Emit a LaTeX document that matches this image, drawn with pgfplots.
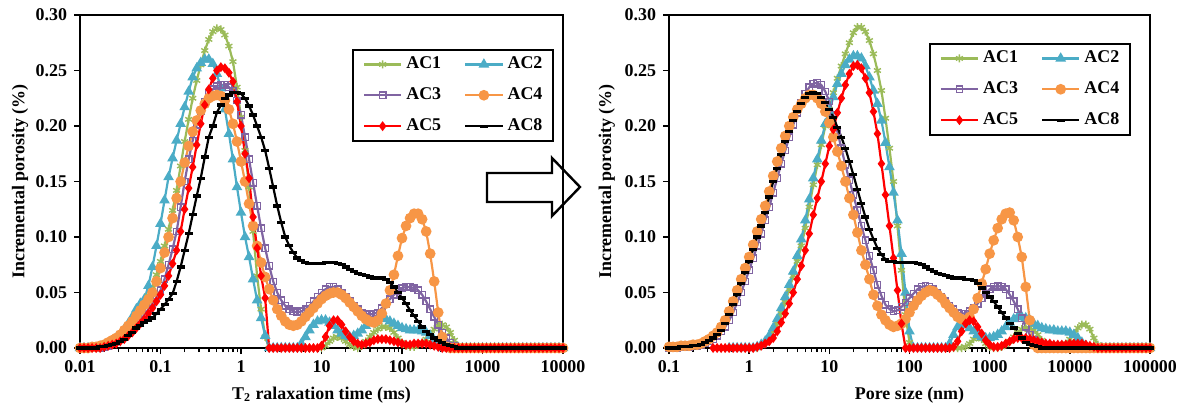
\documentclass[border=0pt]{standalone}
\usepackage{pgfplots}
\pgfplotsset{compat=1.18}
\usepackage{pgfplotstable}
\usepackage{fontspec}
\setmainfont{Liberation Serif}

\definecolor{cAC1}{HTML}{9BBB59}
\definecolor{cAC2}{HTML}{4BACC6}
\definecolor{cAC3}{HTML}{8064A2}
\definecolor{cAC4}{HTML}{F79646}
\definecolor{cAC5}{HTML}{FF0000}
\definecolor{cAC8}{HTML}{000000}

\newcommand{\lbl}{\fontsize{9}{10.8}\selectfont\bfseries}

% left panel: log10 of T2 (ms)
\pgfplotstableread{
lx a1 a2 a3 a4 a5 a8
-2.00 0 0 0 0 0 0
-1.95 0 0 0 0 0 0
-1.90 0 0 0 0 0 0
-1.85 0 0 0 0.001 0 0
-1.80 0 0 0 0.001 0 0
-1.75 0 0.001 0 0.002 0 0.001
-1.70 0.001 0.002 0.001 0.003 0.001 0.001
-1.65 0.002 0.004 0.002 0.005 0.002 0.002
-1.60 0.004 0.006 0.004 0.007 0.003 0.003
-1.55 0.006 0.009 0.006 0.009 0.004 0.004
-1.50 0.009 0.012 0.008 0.012 0.006 0.006
-1.45 0.013 0.017 0.011 0.016 0.008 0.008
-1.40 0.017 0.022 0.014 0.020 0.011 0.011
-1.35 0.022 0.028 0.017 0.024 0.014 0.014
-1.30 0.028 0.035 0.021 0.029 0.018 0.018
-1.25 0.034 0.040 0.025 0.034 0.022 0.020
-1.20 0.040 0.044 0.030 0.039 0.026 0.023
-1.15 0.047 0.056 0.035 0.044 0.031 0.025
-1.10 0.055 0.073 0.040 0.050 0.036 0.027
-1.05 0.066 0.092 0.046 0.060 0.042 0.031
-1.00 0.078 0.112 0.052 0.072 0.048 0.035
-0.95 0.092 0.133 0.062 0.086 0.056 0.039
-0.90 0.107 0.154 0.075 0.100 0.065 0.044
-0.85 0.124 0.171 0.089 0.117 0.076 0.049
-0.80 0.142 0.187 0.105 0.135 0.088 0.060
-0.75 0.164 0.202 0.127 0.150 0.105 0.073
-0.70 0.186 0.217 0.150 0.167 0.125 0.088
-0.65 0.206 0.231 0.170 0.182 0.144 0.103
-0.60 0.225 0.244 0.187 0.195 0.163 0.120
-0.55 0.241 0.252 0.201 0.205 0.183 0.137
-0.50 0.255 0.257 0.213 0.214 0.202 0.153
-0.45 0.268 0.260 0.222 0.220 0.219 0.172
-0.40 0.278 0.260 0.229 0.225 0.233 0.190
-0.35 0.285 0.256 0.233 0.227 0.243 0.200
-0.30 0.288 0.247 0.236 0.228 0.250 0.212
-0.25 0.287 0.234 0.237 0.227 0.253 0.219
-0.20 0.282 0.215 0.237 0.223 0.252 0.225
-0.15 0.272 0.193 0.235 0.215 0.248 0.228
-0.10 0.258 0.170 0.232 0.202 0.240 0.230
-0.05 0.235 0.145 0.223 0.186 0.222 0.230
0.00 0.208 0.122 0.210 0.168 0.200 0.229
0.05 0.178 0.100 0.190 0.150 0.175 0.225
0.10 0.145 0.082 0.170 0.130 0.153 0.218
0.15 0.105 0.062 0.149 0.110 0.118 0.210
0.20 0.065 0.043 0.128 0.092 0.090 0.200
0.25 0.035 0.027 0.108 0.077 0.065 0.190
0.30 0.010 0.011 0.090 0.064 0.045 0.178
0.35 0 0 0.074 0.053 0 0.162
0.40 0 0 0.060 0.043 0 0.145
0.45 0 0 0.050 0.035 0 0.128
0.50 0 0 0.043 0.029 0 0.113
0.55 0 0 0.038 0.024 0 0.100
0.60 0 0 0.035 0.021 0 0.092
0.65 0 0 0.033 0.020 0 0.086
0.70 0 0 0.032 0.021 0 0.081
0.75 0 0.004 0.033 0.024 0 0.079
0.80 0 0.010 0.035 0.028 0 0.077
0.85 0 0.016 0.038 0.032 0 0.076
0.90 0 0.021 0.042 0.036 0 0.076
0.95 0 0.024 0.046 0.040 0 0.076
1.00 0 0.025 0.050 0.044 0.002 0.076
1.05 0.002 0.025 0.053 0.047 0.010 0.077
1.10 0.006 0.023 0.055 0.049 0.020 0.077
1.15 0.009 0.020 0.055 0.050 0.025 0.077
1.20 0.010 0.016 0.053 0.050 0.025 0.076
1.25 0.009 0.013 0.050 0.048 0.021 0.075
1.30 0.006 0.011 0.046 0.045 0.015 0.073
1.35 0.003 0.010 0.042 0.041 0.010 0.071
1.40 0.001 0.011 0.038 0.037 0.006 0.069
1.45 0 0.013 0.035 0.033 0.004 0.067
1.50 0.002 0.016 0.032 0.029 0.003 0.066
1.55 0.006 0.020 0.031 0.026 0.004 0.065
1.60 0.010 0.023 0.030 0.024 0.005 0.064
1.65 0.014 0.026 0.031 0.023 0.007 0.063
1.70 0.017 0.027 0.032 0.025 0.008 0.063
1.75 0.019 0.027 0.036 0.031 0.008 0.063
1.80 0.019 0.026 0.040 0.040 0.008 0.062
1.85 0.018 0.024 0.044 0.052 0.007 0.059
1.90 0.014 0.022 0.048 0.066 0.006 0.055
1.95 0.009 0.020 0.051 0.083 0.005 0.050
2.00 0.005 0.018 0.054 0.099 0.004 0.045
2.05 0.002 0.017 0.055 0.110 0.003 0.040
2.10 0.001 0.016 0.055 0.117 0.003 0.034
2.15 0.001 0.016 0.054 0.121 0.004 0.029
2.20 0.003 0.016 0.052 0.121 0.004 0.024
2.25 0.005 0.015 0.048 0.116 0.004 0.019
2.30 0.008 0.014 0.042 0.105 0.004 0.015
2.35 0.013 0.011 0.035 0.085 0.003 0.012
2.40 0.017 0.007 0.028 0.060 0.002 0.009
2.45 0.020 0.003 0.021 0.032 0.001 0.007
2.50 0.021 0 0.014 0.010 0 0.005
2.55 0.019 0 0.009 0.001 0 0.003
2.60 0.014 0 0.005 0 0 0.002
2.65 0.007 0 0.002 0 0 0.001
2.70 0.002 0 0 0 0 0
2.75 0 0 0 0 0 0
2.80 0 0 0 0 0 0
2.85 0 0 0 0 0 0
2.90 0 0 0 0 0 0
2.95 0 0 0 0 0 0
3.00 0 0 0 0 0 0
3.05 0 0 0 0 0 0
3.10 0 0 0 0 0 0
3.15 0 0 0 0 0 0
3.20 0 0 0 0 0 0
3.25 0 0 0 0 0 0
3.30 0 0 0 0 0 0
3.35 0 0 0 0 0 0
3.40 0 0 0 0 0 0
3.45 0 0 0 0 0 0
3.50 0 0 0 0 0 0
3.55 0 0 0 0 0 0
3.60 0 0 0 0 0 0
3.65 0 0 0 0 0 0
3.70 0 0 0 0 0 0
3.75 0 0 0 0 0 0
3.80 0 0 0 0 0 0
3.85 0 0 0 0 0 0
3.90 0 0 0 0 0 0
3.95 0 0 0 0 0 0
4.00 0 0 0 0 0 0
}\Tleft

% right panel: log10 of pore size (nm)
\pgfplotstableread{
lx a1 a2 a3 a4 a5 a8
-1.00 nan nan 0 0.001 nan 0
-0.95 nan nan 0 0.001 nan 0
-0.90 nan nan 0 0.001 nan 0
-0.85 nan nan 0.001 0.002 nan 0.001
-0.80 nan nan 0.001 0.002 nan 0.001
-0.75 nan nan 0.001 0.002 nan 0.001
-0.70 nan nan 0.002 0.003 nan 0.002
-0.65 nan nan 0.002 0.003 nan 0.002
-0.60 nan nan 0.003 0.004 nan 0.003
-0.55 nan nan 0.004 0.006 nan 0.005
-0.50 nan nan 0.006 0.008 nan 0.007
-0.45 nan nan 0.008 0.011 0 0.009
-0.40 nan nan 0.011 0.014 0 0.012
-0.35 0 nan 0.015 0.019 0 0.016
-0.30 0 nan 0.019 0.025 0 0.022
-0.25 0 0 0.025 0.033 0 0.030
-0.20 0 0 0.032 0.042 0 0.039
-0.15 0 0 0.041 0.052 0 0.048
-0.10 0 0 0.050 0.062 0 0.058
-0.05 0 0 0.060 0.072 0 0.068
0.00 0 0 0.070 0.082 0 0.078
0.05 0 0 0.081 0.093 0 0.089
0.10 0 0.001 0.092 0.105 0.001 0.100
0.15 0.002 0.003 0.103 0.116 0.002 0.110
0.20 0.005 0.006 0.115 0.128 0.004 0.122
0.25 0.009 0.011 0.127 0.141 0.006 0.136
0.30 0.015 0.018 0.140 0.155 0.009 0.150
0.35 0.022 0.026 0.153 0.168 0.015 0.162
0.40 0.031 0.036 0.166 0.180 0.023 0.174
0.45 0.041 0.046 0.178 0.191 0.031 0.186
0.50 0.053 0.057 0.190 0.200 0.040 0.195
0.55 0.065 0.069 0.201 0.208 0.050 0.205
0.60 0.078 0.083 0.212 0.215 0.062 0.213
0.65 0.092 0.098 0.221 0.220 0.074 0.220
0.70 0.108 0.115 0.229 0.225 0.088 0.226
0.75 0.127 0.134 0.235 0.228 0.103 0.229
0.80 0.147 0.153 0.238 0.228 0.120 0.230
0.85 0.165 0.170 0.239 0.225 0.135 0.229
0.90 0.183 0.187 0.237 0.220 0.150 0.226
0.95 0.200 0.202 0.231 0.213 0.166 0.221
1.00 0.215 0.214 0.222 0.203 0.182 0.215
1.05 0.230 0.226 0.210 0.190 0.197 0.208
1.10 0.243 0.238 0.195 0.177 0.212 0.199
1.15 0.254 0.247 0.180 0.164 0.225 0.190
1.20 0.265 0.255 0.165 0.150 0.237 0.180
1.25 0.275 0.260 0.151 0.135 0.247 0.168
1.30 0.284 0.263 0.138 0.120 0.254 0.156
1.35 0.289 0.263 0.124 0.104 0.255 0.143
1.40 0.289 0.261 0.110 0.088 0.252 0.130
1.45 0.285 0.254 0.097 0.075 0.243 0.118
1.50 0.277 0.244 0.083 0.062 0.230 0.107
1.55 0.265 0.232 0.070 0.048 0.213 0.098
1.60 0.250 0.220 0.057 0.038 0.193 0.090
1.65 0.232 0.205 0.047 0.030 0.166 0.084
1.70 0.207 0.185 0.039 0.025 0.138 0.080
1.75 0.180 0.163 0.035 0.021 0.110 0.078
1.80 0.150 0.140 0.033 0.019 0.081 0.078
1.85 0.110 0.115 0.034 0.020 0.052 0.077
1.90 0.070 0.085 0.037 0.022 0.022 0.077
1.95 0.030 0.050 0.041 0.026 0 0.077
2.00 0.005 0.015 0.045 0.032 0 0.077
2.05 0 0 0.049 0.038 0 0.077
2.10 0 0 0.053 0.043 0 0.076
2.15 0 0 0.055 0.047 0 0.075
2.20 0 0 0.056 0.050 0 0.073
2.25 0 0 0.055 0.052 0 0.071
2.30 0 0 0.053 0.051 0 0.069
2.35 0 0 0.050 0.048 0 0.067
2.40 0 0 0.046 0.045 0 0.066
2.45 0 0 0.042 0.040 0 0.065
2.50 0 0.004 0.038 0.036 0 0.064
2.55 0 0.012 0.035 0.032 0.001 0.063
2.60 0 0.019 0.032 0.028 0.006 0.063
2.65 0 0.022 0.031 0.026 0.015 0.063
2.70 0.001 0.021 0.031 0.025 0.022 0.062
2.75 0.004 0.018 0.033 0.028 0.025 0.062
2.80 0.008 0.015 0.036 0.035 0.024 0.061
2.85 0.010 0.012 0.040 0.045 0.019 0.058
2.90 0.008 0.010 0.045 0.058 0.013 0.054
2.95 0.004 0.009 0.049 0.071 0.007 0.050
3.00 0.001 0.009 0.053 0.085 0.003 0.046
3.05 0 0.010 0.055 0.097 0.001 0.042
3.10 0 0.012 0.056 0.108 0.001 0.037
3.15 0.001 0.015 0.055 0.116 0.002 0.032
3.20 0.003 0.019 0.053 0.121 0.004 0.027
3.25 0.006 0.023 0.048 0.122 0.006 0.022
3.30 0.010 0.026 0.042 0.115 0.008 0.018
3.35 0.014 0.028 0.035 0.100 0.009 0.013
3.40 0.017 0.028 0.027 0.082 0.009 0.009
3.45 0.018 0.027 0.019 0.055 0.009 0.005
3.50 0.018 0.025 0.012 0.025 0.008 0.003
3.55 0.016 0.022 0.007 0.003 0.007 0.002
3.60 0.012 0.020 0.003 0 0.006 0.001
3.65 0.007 0.018 0.001 0 0.005 0
3.70 0.003 0.017 0 0 0.004 0
3.75 0.001 0.016 0 0 0.004 0
3.80 0.001 0.016 0 0 0.003 0
3.85 0.001 0.015 0 0 0.003 0
3.90 0.002 0.015 0 0 0.003 0
3.95 0.004 0.015 0 0 0.003 0
4.00 0.008 0.014 0 0 0.004 0
4.05 0.013 0.012 0 0 0.004 0
4.10 0.018 0.009 0 0 0.004 0
4.15 0.021 0.005 0 0 0.004 0
4.20 0.021 0.002 0 0 0.003 0
4.25 0.017 0 0 0 0.002 0
4.30 0.009 0 0 0 0.001 0
4.35 0.003 0 0 0 0 0
4.40 0 0 0 0 0 0
4.45 0 0 0 0 0 0
4.50 0 0 0 0 0 0
4.55 0 0 0 0 0 0
4.60 0 0 0 0 0 0
4.65 0 0 0 0 0 0
4.70 0 0 0 0 0 0
4.75 0 0 0 0 0 0
4.80 0 0 0 0 0 0
4.85 0 0 0 0 0 0
4.90 0 0 0 0 0 0
4.95 0 0 0 0 0 0
5.00 0 0 0 0 0 0
}\Tright

\pgfplotsset{
  box/.style={
    scale only axis, height=166.5bp,
    ymin=0, ymax=0.3,
  },
  frameax/.style={
    box,
    ytick={0,0.05,0.1,0.15,0.2,0.25,0.3},
    yticklabel style={/pgf/number format/.cd, fixed, fixed zerofill, precision=2},
    /pgf/number format/assume math mode=true,
    tick label style={font=\lbl},
    label style={font=\lbl},
    axis line style={line width=1bp},
    tick style={black, line width=0.7bp},
    tick align=outside,
    major tick length=3bp, minor tick length=2bp,
    xtick pos=bottom, ytick pos=left,
  },
  dataax/.style={
    box, hide axis, clip=false,
    legend columns=2,
    legend cell align=left,
    legend image code/.code={
      \draw[mark repeat=2, mark phase=2]
        plot coordinates {(0bp,0bp) (9.3bp,0bp) (18.6bp,0bp)};},
    legend style={draw=black, line width=1bp, font=\lbl,
      inner xsep=5bp, inner ysep=3bp, row sep=7bp,
      nodes={inner sep=0.5bp},
      /tikz/every odd column/.append style={column sep=1.5bp},
      /tikz/every even column/.append style={column sep=11bp}},
  },
  s1/.style={color=cAC1, line width=1.1bp, mark=asterisk, mark size=2bp, mark options={solid, line width=0.7bp}},
  s2/.style={color=cAC2, line width=1.1bp, mark=triangle*, mark size=2bp, mark options={solid}},
  s3/.style={color=cAC3, line width=1.1bp, mark=square, mark size=1.6bp, mark options={solid, line width=0.7bp, fill=white}},
  s4/.style={color=cAC4, line width=1.1bp, mark=*, mark size=2.1bp, mark options={solid}},
  s5/.style={color=cAC5, line width=1.1bp, mark=diamond*, mark size=1.6bp, mark options={solid}},
  s8/.style={color=cAC8, line width=1.1bp, mark=-, mark size=2bp, mark options={solid, line width=1.6bp}},
}

\begin{document}
\begin{tikzpicture}
\useasboundingbox (0,0) rectangle (593bp,203.5bp);

% ---- left panel ----
\begin{semilogxaxis}[frameax, at={(40bp,29.5bp)}, anchor=south west, width=241.5bp,
  xmin=0.01, xmax=10000,
  xtick={0.01,0.1,1,10,100,1000,10000},
  xticklabels={0.01,0.1,1,10,100,1000,10000},
  xlabel={T\textsubscript{2} ralaxation time (ms)},
  ylabel={Incremental porosity (\%)},
  xlabel style={at={(axis description cs:0.5,-0.141)}, anchor=center},
  ylabel style={at={(axis description cs:-0.124,0.5)}, anchor=center},
]
\end{semilogxaxis}
\begin{axis}[dataax, at={(40bp,29.5bp)}, anchor=south west, width=241.5bp,
  xmin=-2, xmax=4,
  legend style={at={(0.563,0.898)}, anchor=north west},
]
\addplot[s1] table[x=lx, y=a1] {\Tleft};
\addplot[s2] table[x=lx, y=a2] {\Tleft};
\addplot[s3] table[x=lx, y=a3] {\Tleft};
\addplot[s4] table[x=lx, y=a4] {\Tleft};
\addplot[s5] table[x=lx, y=a5] {\Tleft};
\addplot[s8] table[x=lx, y=a8] {\Tleft};
\legend{AC1,AC2,AC3,AC4,AC5,AC8}
\end{axis}

% ---- right panel ----
\begin{semilogxaxis}[frameax, at={(334.5bp,29.5bp)}, anchor=south west, width=240.5bp,
  xmin=0.1, xmax=100000,
  xtick={0.1,1,10,100,1000,10000,100000},
  xticklabels={0.1,1,10,100,1000,10000,100000},
  xlabel={Pore size (nm)},
  ylabel={Incremental porosity (\%)},
  xlabel style={at={(axis description cs:0.5,-0.141)}, anchor=center},
  ylabel style={at={(axis description cs:-0.129,0.5)}, anchor=center},
]
\end{semilogxaxis}
\begin{axis}[dataax, at={(334.5bp,29.5bp)}, anchor=south west, width=240.5bp,
  xmin=-1, xmax=5,
  legend style={at={(0.54,0.916)}, anchor=north west},
]
\addplot[s1] table[x=lx, y=a1] {\Tright};
\addplot[s2] table[x=lx, y=a2] {\Tright};
\addplot[s3] table[x=lx, y=a3] {\Tright};
\addplot[s4] table[x=lx, y=a4] {\Tright};
\addplot[s5] table[x=lx, y=a5] {\Tright};
\addplot[s8] table[x=lx, y=a8] {\Tright};
\legend{AC1,AC2,AC3,AC4,AC5,AC8}
\end{axis}

% block arrow between the panels
\draw[line width=1.2bp, miter limit=10]
  (243.5bp,117bp) -- (276bp,117bp) -- (276bp,124.5bp) -- (290bp,110bp)
  -- (276bp,95.5bp) -- (276bp,102.5bp) -- (243.5bp,102.5bp) -- cycle;
\end{tikzpicture}
\end{document}
